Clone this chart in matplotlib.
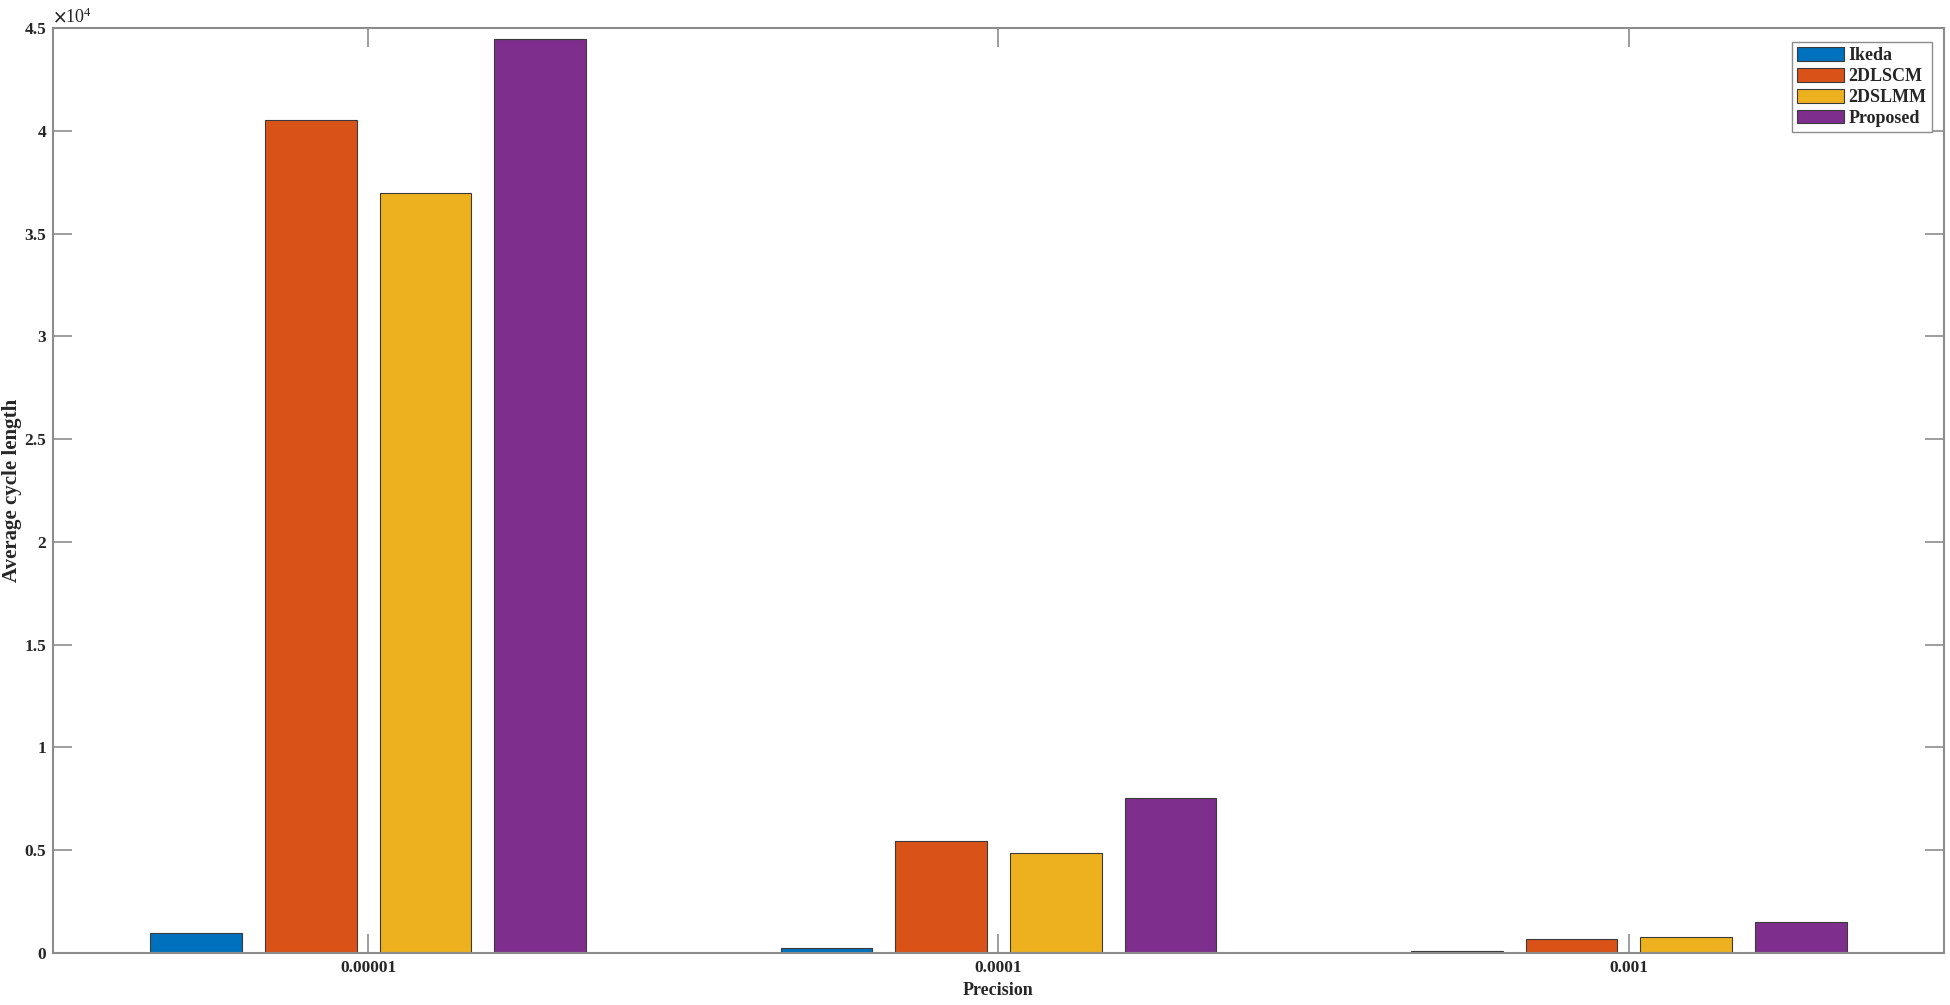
import numpy as np
import matplotlib
matplotlib.use("Agg")
import matplotlib.pyplot as plt
from matplotlib.ticker import FuncFormatter

# Data
precisions = ["0.00001", "0.0001", "0.001"]
methods = ["Ikeda", "2DLSCM", "2DSLMM", "Proposed"]
ikeda = [980, 230, 100]
dlscm = [40500, 5450, 690]
dslmm = [36950, 4880, 790]
proposed = [44450, 7550, 1510]
colors = ["#0072BD", "#D95319", "#EDB120", "#7E2F8E"]

plt.rcParams["font.family"] = ["Liberation Serif", "DejaVu Serif"]
plt.rcParams["font.weight"] = "bold"
plt.rcParams["mathtext.fontset"] = "stix"

fig = plt.figure(figsize=(19.5, 10.05), dpi=100)
ax = fig.add_axes([53 / 1950, 52 / 1005, 1891 / 1950, 925 / 1005])

# MATLAB style grouped bars
x = np.arange(1, len(precisions) + 1)
groupw = min(0.8, 4 / (4 + 1.5))
step = groupw / 4
barw = 0.8 * step
for i, vals in enumerate([ikeda, dlscm, dslmm, proposed]):
    ax.bar(x + (i - 1.5) * step, vals, width=barw, color=colors[i],
           edgecolor="#3a3a3a", linewidth=0.8, label=methods[i], zorder=2)

ax.set_xlim(0.5, 3.5)
ax.set_ylim(0, 45000)
ax.set_xticks(x)
ax.set_xticklabels(precisions)
ax.set_yticks(np.arange(0, 45001, 5000))
ax.yaxis.set_major_formatter(FuncFormatter(lambda v, p: f"{v / 1e4:g}"))

gray = "#8c8c8c"
for s in ax.spines.values():
    s.set_color(gray)
    s.set_linewidth(1.5)
ax.tick_params(direction="in", length=14, width=1.2, color=gray,
               labelcolor="#262626", labelsize=12.5, top=True, right=True, pad=5)

ax.set_xlabel("Precision", fontsize=13, fontweight="bold", color="#262626", labelpad=4)
ax.set_ylabel("Average cycle length", fontsize=15, fontweight="bold", color="#262626", labelpad=2)

ax.text(0.0, 1.002, r"$\times\mathregular{10^{4}}$", transform=ax.transAxes,
        ha="left", va="bottom", fontsize=13, color="#262626", fontweight="normal")

leg = ax.legend(loc="upper right", bbox_to_anchor=(0.9937, 0.985), fontsize=13,
                frameon=True, fancybox=False, framealpha=1, edgecolor=gray,
                handlelength=2.6, handleheight=0.8, handletextpad=0.25,
                labelspacing=0.2, borderpad=0.3, borderaxespad=0)
leg.get_frame().set_linewidth(1.0)
for t in leg.get_texts():
    t.set_color("#262626")

fig.savefig("out.png", dpi=100)
